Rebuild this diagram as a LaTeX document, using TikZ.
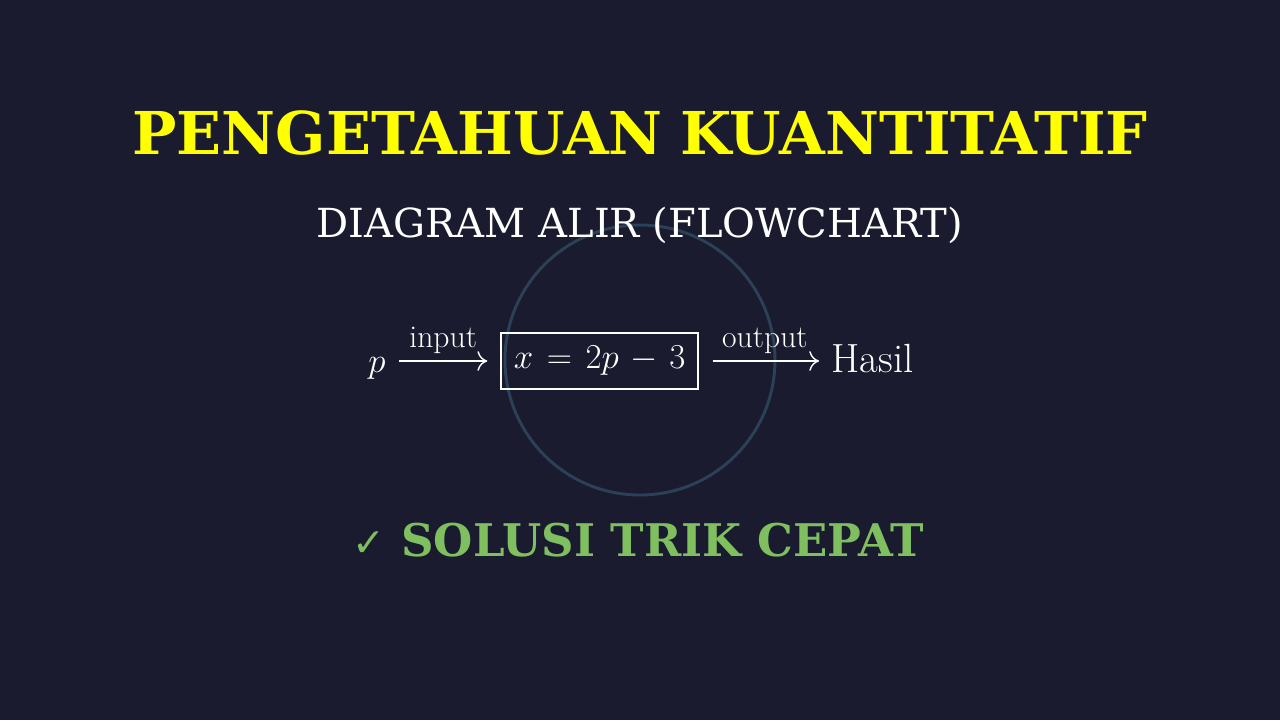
\documentclass[tikz,border=0pt]{standalone}
\usepackage[no-math]{fontspec}
\usetikzlibrary{arrows.meta}
\newfontfamily\titlefont{DejaVu Serif}
\newfontfamily\checkfont{DejaVu Sans}
\definecolor{bgnavy}{HTML}{1A1B2E}
\definecolor{ringblue}{HTML}{2B4157}
\definecolor{titleyellow}{HTML}{FFFF00}
\definecolor{trikgreen}{HTML}{7FBF60}
\tikzset{
  mathtext/.style={text=white, inner sep=0pt, font=\fontsize{29}{35}\selectfont},
  flowbox/.style={draw=white, line width=0.9pt, minimum width=4.925cm, minimum height=1.4cm, inner sep=0pt},
  flowarrow/.style={-{Computer Modern Rightarrow[length=7pt, width=14pt]}, draw=white, line width=1pt},
  arrowlabel/.style={text=white, inner sep=0pt, font=\fontsize{22.5}{27}\selectfont}
}
\begin{document}
\begin{tikzpicture}
    \fill[bgnavy] (-16,-9) rectangle (16,9);
    \useasboundingbox (-16,-9) rectangle (16,9);
    \draw[ringblue, line width=2.1pt] (0,0) circle (3.375);
    \node[anchor=base, text=titleyellow, font=\fontsize{42}{50}\titlefont\bfseries] (title) at (0,5.13) {PENGETAHUAN\hspace{0.3em}KUANTITATIF};
    \node[anchor=base, text=white, font=\fontsize{28.5}{34}\titlefont] (subtitle) at (0,3.07) {DIAGRAM ALIR (FLOWCHART)};
    \node[flowbox, mathtext] (box) at (-1.01,-0.025) {\thickmuskip=7mu \medmuskip=6mu $x = 2p - 3$};
    \node[mathtext, anchor=base] (p) at (-6.575,-0.3) {$p$};
    \node[mathtext, anchor=base] (hasil) at (5.81,-0.3) {Hasil};
    \draw[flowarrow, shorten <=0.33cm, shorten >=0.33cm] (p.east |- box.west) -- node[arrowlabel, above=5pt] {input} (box.west);
    \draw[flowarrow, shorten <=0.35cm, shorten >=0.3cm] (box.east) -- node[arrowlabel, above=5pt] {output} (hasil.west |- box.east);
    \node[anchor=base, text=trikgreen, font=\fontsize{32}{38}\titlefont\bfseries] (trik) at (-0.04,-4.9) {{\checkfont\bfseries\fontsize{28}{32}\selectfont ✓}\ SOLUSI TRIK CEPAT};
\end{tikzpicture}
\end{document}
